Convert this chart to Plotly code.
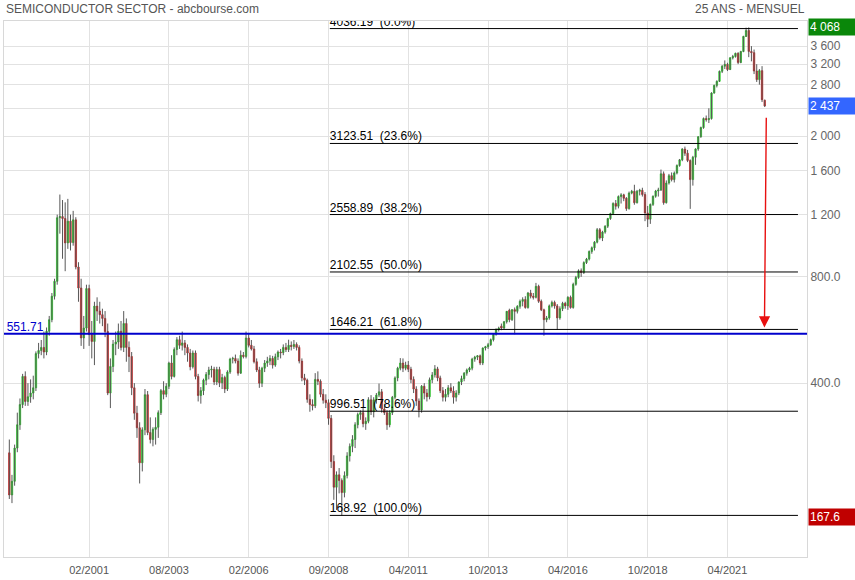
import math
import plotly.graph_objects as go

# ---------------- data (monthly candles, bar index 0 = first month shown) ----------------
opens = [
    254, 193, 211, 262, 305, 348, 418, 355, 366, 375,
    388, 485, 495, 505, 490, 561, 605, 705, 777, 1176,
    1185, 1170, 998, 1150, 1000, 1160, 853, 744, 537, 573,
    741, 549, 525, 661, 640, 625, 610, 560, 375, 446,
    516, 523, 561, 505, 590, 505, 476, 388, 329, 299,
    238, 295, 371, 290, 277, 296, 300, 330, 381, 372,
    392, 456, 418, 498, 531, 512, 520, 505, 487, 445,
    487, 418, 369, 381, 408, 423, 436, 438, 403, 437,
    401, 415, 385, 430, 468, 470, 462, 427, 480, 476,
    537, 512, 500, 460, 436, 400, 441, 456, 462, 470,
    450, 475, 490, 488, 505, 498, 512, 508, 515, 505,
    462, 414, 408, 360, 348, 345, 410, 405, 372, 358,
    352, 318, 240, 203, 220, 212, 196, 219, 249, 265,
    277, 305, 326, 330, 307, 312, 359, 332, 359, 370,
    378, 338, 330, 305, 330, 365, 414, 441, 456, 441,
    450, 438, 410, 385, 356, 336, 392, 375, 366, 409,
    422, 439, 414, 381, 365, 372, 388, 380, 365, 375,
    403, 412, 427, 436, 441, 468, 474, 478, 456, 503,
    507, 514, 531, 550, 567, 580, 573, 597, 643, 605,
    646, 639, 660, 682, 690, 655, 720, 705, 700, 752,
    682, 645, 605, 612, 662, 677, 662, 612, 650, 673,
    662, 700, 655, 762, 797, 832, 823, 878, 898, 944,
    967, 1003, 1088, 1031, 1071, 1113, 1170, 1208, 1291, 1268,
    1350, 1365, 1335, 1248, 1381, 1397, 1297, 1397, 1406, 1368,
    1213, 1165, 1283, 1353, 1400, 1409, 1566, 1297, 1475, 1547,
    1508, 1574, 1653, 1715, 1841, 1791, 1708, 1508, 1745, 1841,
    1994, 2117, 2245, 2229, 2245, 2651, 2787, 2862, 3054, 3159,
    3195, 3090, 3335, 3365, 3434, 3235, 3477, 3835, 3986, 3477,
    3450, 3060, 2894, 3068, 2530,
]
highs = [
    277, 220, 268, 330, 362, 425, 432, 400, 410, 420,
    492, 520, 530, 560, 575, 620, 720, 790, 1200, 1368,
    1320, 1300, 1330, 1200, 1230, 1180, 880, 790, 620, 760,
    760, 600, 680, 700, 680, 650, 640, 590, 470, 530,
    560, 590, 600, 640, 610, 525, 490, 400, 345, 310,
    300, 385, 380, 320, 300, 320, 335, 385, 405, 400,
    460, 480, 505, 540, 545, 560, 530, 515, 500, 495,
    495, 425, 390, 412, 430, 445, 448, 445, 445, 445,
    425, 420, 435, 472, 475, 482, 470, 495, 490, 560,
    555, 530, 510, 470, 445, 445, 465, 475, 480, 478,
    485, 495, 500, 515, 520, 531, 525, 530, 522, 512,
    470, 425, 412, 372, 360, 427, 432, 410, 385, 372,
    360, 325, 250, 225, 230, 215, 225, 255, 270, 285,
    310, 330, 335, 340, 320, 365, 370, 365, 375, 399,
    385, 350, 335, 335, 368, 418, 445, 471, 470, 460,
    462, 445, 418, 392, 362, 395, 400, 385, 415, 430,
    450, 445, 420, 390, 385, 395, 400, 392, 382, 405,
    420, 430, 440, 445, 472, 478, 480, 482, 505, 510,
    520, 535, 552, 572, 578, 590, 600, 640, 650, 648,
    655, 665, 690, 700, 705, 725, 735, 720, 769, 760,
    690, 650, 620, 668, 685, 685, 670, 660, 680, 680,
    705, 708, 770, 805, 840, 845, 885, 905, 950, 975,
    1010, 1100, 1100, 1080, 1120, 1175, 1215, 1300, 1320, 1360,
    1380, 1375, 1345, 1395, 1410, 1458, 1410, 1420, 1430, 1390,
    1270, 1290, 1360, 1410, 1430, 1610, 1590, 1500, 1565, 1580,
    1590, 1665, 1725, 1850, 1870, 1830, 1720, 1760, 1850, 2000,
    2130, 2260, 2290, 2400, 2665, 2800, 2880, 3070, 3180, 3280,
    3230, 3350, 3400, 3450, 3460, 3490, 3850, 4060, 4068, 3600,
    3520, 3200, 3100, 3159, 2540,
]
lows = [
    188, 183, 205, 255, 295, 340, 345, 345, 352, 360,
    380, 470, 480, 470, 480, 545, 595, 690, 760, 1060,
    900, 830, 960, 950, 980, 840, 680, 510, 500, 560,
    510, 470, 450, 600, 590, 580, 540, 370, 340, 430,
    480, 500, 495, 490, 460, 430, 370, 315, 280, 208,
    225, 285, 285, 270, 265, 268, 280, 325, 360, 365,
    385, 410, 415, 480, 500, 495, 480, 460, 435, 440,
    410, 355, 350, 370, 395, 410, 415, 395, 395, 390,
    385, 375, 380, 425, 455, 455, 420, 425, 470, 470,
    505, 495, 455, 430, 388, 390, 430, 445, 450, 440,
    445, 465, 470, 480, 490, 490, 495, 500, 495, 455,
    405, 395, 352, 332, 335, 340, 395, 365, 350, 340,
    305, 230, 187, 175, 195, 168.92, 190, 215, 240, 255,
    262, 298, 315, 300, 295, 308, 325, 320, 350, 365,
    330, 325, 295, 300, 325, 360, 405, 435, 430, 435,
    430, 400, 375, 345, 320, 330, 360, 355, 360, 400,
    415, 405, 375, 355, 355, 365, 375, 350, 355, 370,
    395, 405, 420, 430, 435, 460, 465, 450, 450, 495,
    500, 510, 525, 545, 560, 565, 568, 590, 595, 600,
    550, 630, 650, 660, 650, 650, 695, 690, 695, 675,
    640, 545, 595, 605, 655, 650, 567, 605, 640, 650,
    645, 650, 650, 755, 790, 800, 815, 870, 890, 930,
    950, 995, 1020, 1010, 1060, 1100, 1160, 1200, 1240, 1250,
    1290, 1310, 1230, 1240, 1370, 1280, 1290, 1360, 1350, 1150,
    1107, 1130, 1270, 1340, 1350, 1400, 1280, 1290, 1460, 1490,
    1480, 1560, 1640, 1700, 1760, 1690, 1246, 1450, 1660, 1820,
    1980, 2100, 2200, 2180, 2230, 2640, 2750, 2850, 3020, 3100,
    3060, 3080, 3300, 3340, 3200, 3220, 3460, 3820, 3350, 3260,
    3000, 2850, 2800, 2500, 2420,
]
closes = [
    193, 211, 262, 305, 348, 418, 355, 366, 375, 388,
    485, 495, 505, 490, 561, 605, 705, 777, 1176, 1185,
    1170, 998, 1150, 1000, 1160, 853, 744, 537, 573, 741,
    549, 525, 661, 640, 625, 610, 560, 375, 446, 516,
    523, 561, 505, 590, 505, 476, 388, 329, 299, 238,
    295, 371, 290, 277, 296, 300, 330, 381, 372, 392,
    456, 418, 498, 531, 512, 520, 505, 487, 445, 487,
    418, 369, 381, 408, 423, 436, 438, 403, 437, 401,
    415, 385, 430, 468, 470, 462, 427, 480, 476, 537,
    512, 500, 460, 436, 400, 441, 456, 462, 470, 450,
    475, 490, 488, 505, 498, 512, 508, 515, 505, 462,
    414, 408, 360, 348, 345, 410, 405, 372, 358, 352,
    318, 240, 203, 220, 212, 196, 219, 249, 265, 277,
    305, 326, 330, 307, 312, 359, 332, 359, 370, 378,
    338, 330, 305, 330, 365, 414, 441, 456, 441, 450,
    438, 410, 385, 356, 336, 392, 375, 366, 409, 422,
    439, 414, 381, 365, 372, 388, 380, 365, 375, 403,
    412, 427, 436, 441, 468, 474, 478, 456, 503, 507,
    514, 531, 550, 567, 573, 573, 597, 639, 605, 646,
    639, 660, 682, 690, 655, 720, 705, 700, 752, 682,
    645, 605, 612, 662, 677, 662, 612, 650, 673, 662,
    700, 655, 762, 797, 832, 823, 878, 898, 944, 967,
    1003, 1088, 1031, 1071, 1113, 1170, 1208, 1291, 1268, 1350,
    1365, 1335, 1248, 1381, 1397, 1297, 1397, 1406, 1368, 1213,
    1165, 1283, 1353, 1400, 1409, 1566, 1297, 1475, 1547, 1508,
    1574, 1653, 1715, 1841, 1791, 1708, 1508, 1745, 1841, 1994,
    2117, 2245, 2229, 2245, 2651, 2787, 2862, 3054, 3159, 3195,
    3090, 3335, 3365, 3434, 3235, 3477, 3835, 3986, 3477, 3450,
    3060, 2894, 3068, 2537, 2437,
]

tick_bars = [30, 60, 90, 120, 150, 180, 210, 240, 270]
tick_labels = ["02/2001", "08/2003", "02/2006", "09/2008", "04/2011",
               "10/2013", "04/2016", "10/2018", "04/2021"]

y_ticks = [400, 800, 1200, 1600, 2000, 2400, 2800, 3200, 3600]
y_tick_text = ["400.0", "800.0", "1 200", "1 600", "2 000", "", "2 800", "3 200", "3 600"]

fib_high = 4036.19
fib_low = 168.92
fib_ratios = [0.0, 0.236, 0.382, 0.5, 0.618, 0.786, 1.0]
fib_labels = ["4036.19  (0.0%)", "3123.51  (23.6%)", "2558.89  (38.2%)",
              "2102.55  (50.0%)", "1646.21  (61.8%)", "996.51  (78.6%)",
              "168.92  (100.0%)"]

support_level = 551.71
last_price = 2437
max_price = 4068
min_price = 167.6

title_left = "SEMICONDUCTOR SECTOR - abcbourse.com"
title_right = "25 ANS - MENSUEL"

assert len(opens) == len(highs) == len(lows) == len(closes)
n = len(closes)
bars = list(range(n))

REG = "Liberation Sans, Arial, sans-serif"

fig = go.Figure()

# wicks
wx, wy = [], []
for i in range(n):
    wx += [i, i, None]
    wy += [lows[i], highs[i], None]
fig.add_trace(go.Scatter(x=wx, y=wy, mode="lines", line=dict(color="#585858", width=1),
                         hoverinfo="skip", showlegend=False))

# bodies
body_hi = [max(o, c) for o, c in zip(opens, closes)]
body_lo = [min(o, c) for o, c in zip(opens, closes)]
fig.add_trace(go.Candlestick(
    x=bars, open=opens, high=body_hi, low=body_lo, close=closes,
    increasing=dict(fillcolor="#22ee22", line=dict(color="#12b812", width=0.6)),
    decreasing=dict(fillcolor="#e41c1c", line=dict(color="#bb1010", width=0.6)),
    whiskerwidth=0, showlegend=False, hoverinfo="skip"))

# fibonacci retracement levels (log scale)
lh, ll = math.log10(fib_high), math.log10(fib_low)
fib_levels = [10 ** (lh - r * (lh - ll)) for r in fib_ratios]
fib_x0, fib_x1 = 120.5, 296.5
for lvl in fib_levels:
    fig.add_trace(go.Scatter(x=[fib_x0, fib_x1], y=[lvl, lvl], mode="lines",
                             line=dict(color="black", width=1), hoverinfo="skip",
                             showlegend=False))
fig.add_trace(go.Scatter(x=[fib_x0] * len(fib_levels), y=fib_levels, mode="text",
                         text=fib_labels, textposition="top right",
                         textfont=dict(family=REG, size=12, color="black"),
                         hoverinfo="skip", showlegend=False, cliponaxis=True))

# support line
fig.add_trace(go.Scatter(x=[-3, 301], y=[support_level, support_level], mode="lines",
                         line=dict(color="#0000cc", width=2), hoverinfo="skip",
                         showlegend=False))
fig.add_trace(go.Scatter(x=[-1.0], y=[support_level], mode="text",
                         text=[f"{support_level:.2f}"], textposition="top right",
                         textfont=dict(family=REG, size=12, color="#0000cc"),
                         hoverinfo="skip", showlegend=False))

annotations = [
    dict(text=title_left, xref="paper", yref="paper", x=0, y=1, xanchor="left",
         yanchor="middle", yshift=12, xshift=0, showarrow=False,
         font=dict(family=REG, size=12, color="#555555")),
    dict(text=title_right, xref="paper", yref="paper", x=1, y=1, xanchor="right",
         yanchor="middle", yshift=12, showarrow=False,
         font=dict(family=REG, size=12, color="#555555")),
    # arrow from the last price down to the 61.8% level
    dict(x=283.9, y=math.log10(575), ax=284.6, ay=math.log10(2280), xref="x", yref="y",
         axref="x", ayref="y", text="", showarrow=True, arrowhead=2, arrowsize=1.6,
         arrowwidth=1.4, arrowcolor="#e81010"),
]
for val, txt, col in [(max_price, "4 068", "#0a870a"), (last_price, "2 437", "#3366ff"),
                      (min_price, "167.6", "#c00000")]:
    annotations.append(dict(text=txt, xref="paper", yref="y", x=1, y=math.log10(val),
                            xanchor="left", yanchor="middle", xshift=1, showarrow=False,
                            bgcolor=col, width=44, height=14, align="left",
                            borderpad=1, font=dict(family=REG, size=12, color="white")))

fig.update_layout(
    width=855, height=580,
    margin=dict(l=4, r=48, t=21, b=23),
    paper_bgcolor="white", plot_bgcolor="white",
    boxgap=0.2,
    annotations=annotations,
    xaxis=dict(range=[-2, 299.9], tickvals=tick_bars, ticktext=tick_labels,
               showgrid=True, gridcolor="#e2e2e2", gridwidth=1, zeroline=False,
               showline=True, linecolor="#d8d8d8", linewidth=1, mirror=True,
               ticks="", ticklabelstandoff=3,
               tickfont=dict(family=REG, size=11, color="#555555"),
               rangeslider=dict(visible=False), fixedrange=True),
    yaxis=dict(type="log", range=[2.1099, 3.6274], side="right",
               tickvals=y_ticks, ticktext=y_tick_text,
               showgrid=True, gridcolor="#e2e2e2", gridwidth=1, zeroline=False,
               showline=True, linecolor="#d8d8d8", linewidth=1, mirror=True,
               ticks="", tickfont=dict(family=REG, size=12, color="#666666"),
               fixedrange=True),
    font=dict(family=REG),
    hovermode=False,
)

fig.write_html("out.html", config={"displayModeBar": False, "staticPlot": True},
               post_script="document.body.style.margin='0';document.body.style.padding='0';")
